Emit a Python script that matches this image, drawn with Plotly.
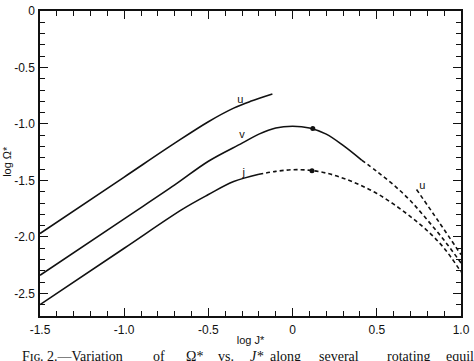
import plotly.graph_objects as go

# ---- data ----
u_solid_x = [-1.5, -1.0, -0.7, -0.5, -0.35, -0.25, -0.12]
u_solid_y = [-1.97, -1.47, -1.17, -0.98, -0.86, -0.80, -0.735]
u_dash_x = [0.736, 0.87, 1.0]
u_dash_y = [-1.58, -1.87, -2.157]

v_solid_x = [-1.5, -1.0, -0.7, -0.5, -0.3, -0.2, -0.1, 0.0, 0.1, 0.2, 0.3, 0.41]
v_solid_y = [-2.34, -1.84, -1.54, -1.33, -1.17, -1.09, -1.035, -1.02, -1.035, -1.09, -1.19, -1.32]
v_dash_x = [0.41, 0.5, 0.6, 0.7, 0.8, 0.9, 1.0]
v_dash_y = [-1.32, -1.42, -1.54, -1.68, -1.85, -2.03, -2.23]

j_solid_x = [-1.5, -1.0, -0.653, -0.5, -0.35, -0.2]
j_solid_y = [-2.60, -2.10, -1.754, -1.625, -1.51, -1.445]
j_dash_x = [-0.2, -0.1, 0.0, 0.1, 0.2, 0.3, 0.4, 0.5, 0.6, 0.7, 0.8, 0.9, 1.0]
j_dash_y = [-1.445, -1.42, -1.405, -1.41, -1.435, -1.48, -1.54, -1.615, -1.71, -1.82, -1.945, -2.10, -2.31]

dot_x = [0.12, 0.115]
dot_y = [-1.04, -1.415]

label_text = ["u", "v", "j", "u"]
label_x = [-0.31, -0.30, -0.29, 0.77]
label_y = [-0.79, -1.10, -1.435, -1.55]

x_tickvals = [-1.5, -1.0, -0.5, 0, 0.5, 1.0]
x_ticktext = ["-1.5", "-1.0", "-0.5", "0", "0.5", "1.0"]
y_tickvals = [0, -0.5, -1.0, -1.5, -2.0, -2.5]
y_ticktext = ["0", "-0.5", "-1.0", "-1.5", "-2.0", "-2.5"]

INK = "#111111"
fig = go.Figure()

def add_line(x, y, dash):
    fig.add_trace(go.Scatter(x=x, y=y, mode="lines", line_shape="spline",
                             line=dict(color=INK, width=1.6, dash=dash),
                             hoverinfo="skip", showlegend=False))

add_line(u_solid_x, u_solid_y, "solid")
add_line(u_dash_x, u_dash_y, "4px,3px")
add_line(v_solid_x, v_solid_y, "solid")
add_line(v_dash_x, v_dash_y, "4px,3px")
add_line(j_solid_x, j_solid_y, "solid")
add_line(j_dash_x, j_dash_y, "4px,3px")

fig.add_trace(go.Scatter(x=dot_x, y=dot_y, mode="markers", hoverinfo="skip",
                         marker=dict(color=INK, size=5), showlegend=False))
fig.add_trace(go.Scatter(x=label_x, y=label_y, mode="text", text=label_text, hoverinfo="skip",
                         textfont=dict(family="Liberation Sans, Arial", size=11, color=INK),
                         showlegend=False))

axis_common = dict(showline=True, linecolor=INK, linewidth=1.5, mirror="ticks",
                   ticks="inside", ticklen=8, tickwidth=1.3, tickcolor=INK,
                   showgrid=False, zeroline=False, ticklabeloverflow="allow",
                   tickfont=dict(family="Liberation Sans, Arial", size=12, color=INK),
                   minor=dict(ticks="inside", dtick=0.1, ticklen=5, tickwidth=1.2,
                              tickcolor=INK, showgrid=False))

fig.update_xaxes(range=[-1.5, 1.0], tickvals=x_tickvals, ticktext=x_ticktext,
                 ticklabelstandoff=2,
                 title=dict(text="log J*", standoff=0,
                            font=dict(family="Liberation Sans, Arial", size=11, color=INK)),
                 **axis_common)
fig.update_yaxes(range=[-2.7, 0], tickvals=y_tickvals, ticktext=y_ticktext,
                 ticklabelstandoff=1, **axis_common)

W, H = 474, 361
L, R, T, B = 40, 9, 4, 45
pw, ph = W - L - R, H - T - B

def px_to_paper(px, py):
    return (px - L) / pw, (H - B - py) / ph

annotations = []
ax, ay = px_to_paper(6, 158)
annotations.append(dict(x=ax, y=ay, xref="paper", yref="paper", text="log Ω*", textangle=-90,
                        xanchor="center", yanchor="middle",
                        showarrow=False, font=dict(family="Liberation Sans, Arial", size=11, color=INK)))

caption_words = ["Fɪɢ. 2.—Variation", "of", "Ω*", "vs.",
                 "<i>J*</i>", "along", "several", "rotating", "equilibrium"]
caption_left = [20, 152, 185, 218, 250, 270, 320, 388, 448]
for wtxt, wx in zip(caption_words, caption_left):
    ax, ay = px_to_paper(wx, 357)
    annotations.append(dict(x=ax, y=ay, xref="paper", yref="paper", text=wtxt,
                            xanchor="left", yanchor="middle", showarrow=False,
                            font=dict(family="Liberation Serif, Times New Roman", size=14, color=INK)))

fig.update_layout(width=W, height=H, margin=dict(l=L, r=R, t=T, b=B),
                  paper_bgcolor="white", plot_bgcolor="white", hovermode=False,
                  annotations=annotations)

fig.write_html("out.html", config={"displayModeBar": False},
               post_script="document.body.style.margin='0';")
